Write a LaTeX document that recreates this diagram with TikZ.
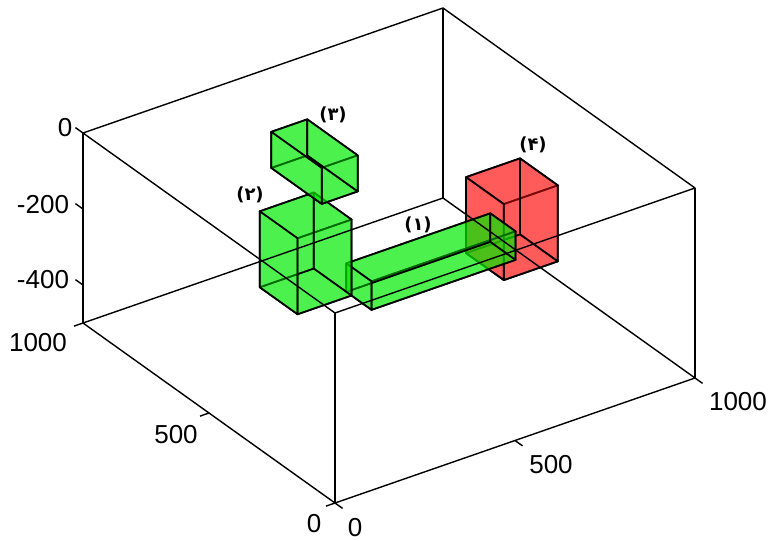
\documentclass[tikz,border=0pt]{standalone}
\usepackage{fontspec}
\setmainfont{Liberation Sans}
\newfontfamily\farsifont[Script=Arabic]{DejaVu Sans}

% one filled cuboid: a1 b1 c1 a2 b2 c2 style
\newcommand{\solidbox}[7]{%
  \path[#7] (#1,#2,#3) -- (#4,#2,#3) -- (#4,#5,#3) -- (#1,#5,#3) -- cycle;
  \path[#7] (#1,#2,#6) -- (#4,#2,#6) -- (#4,#5,#6) -- (#1,#5,#6) -- cycle;
  \path[#7] (#1,#2,#3) -- (#4,#2,#3) -- (#4,#2,#6) -- (#1,#2,#6) -- cycle;
  \path[#7] (#1,#5,#3) -- (#4,#5,#3) -- (#4,#5,#6) -- (#1,#5,#6) -- cycle;
  \path[#7] (#1,#2,#3) -- (#1,#5,#3) -- (#1,#5,#6) -- (#1,#2,#6) -- cycle;
  \path[#7] (#4,#2,#3) -- (#4,#5,#3) -- (#4,#5,#6) -- (#4,#2,#6) -- cycle;
}

\definecolor{boxgreen}{RGB}{0,235,0}
\definecolor{boxred}{RGB}{255,20,20}

\tikzset{
  axisline/.style={line width=1.4pt, line join=round},
  tickmark/.style={line width=1.4pt},
  ticklabel/.style={font=\fontsize{26}{26}\selectfont, inner sep=0pt},
  boxlabel/.style={font=\farsifont\bfseries\fontsize{18}{18}\selectfont, inner sep=0pt},
  greenbox/.style={fill=boxgreen, fill opacity=0.45, draw=black, line width=1.7pt, line join=round},
  redbox/.style={fill=boxred, fill opacity=0.45, draw=black, line width=1.7pt, line join=round}
}

\begin{document}
\begin{tikzpicture}[
  x={(0.360pt,0.125pt)}, y={(-0.252pt,0.180pt)}, z={(0pt,0.38pt)}
]
\useasboundingbox (0pt,0pt) rectangle (769pt,541pt);

\begin{scope}[shift={(335pt,228pt)}]
  % bodies
  \solidbox{700}{330}{-300}{850}{480}{-100}{redbox}
  \solidbox{350}{355}{-275}{750}{455}{-200}{greenbox}
  \solidbox{225}{470}{-300}{375}{620}{-100}{greenbox}
  \solidbox{355}{560}{-95}{455}{760}{0}{greenbox}

  % axes box
  \coordinate (O) at (0,0,-500);
  \coordinate (A) at (1000,0,-500);
  \coordinate (B) at (0,1000,-500);
  \coordinate (AB) at (1000,1000,-500);
  \coordinate (Ot) at (0,0,0);
  \coordinate (At) at (1000,0,0);
  \coordinate (Bt) at (0,1000,0);
  \coordinate (ABt) at (1000,1000,0);
  \draw[axisline] (O) -- (A) -- (AB) -- (B) -- cycle;
  \draw[axisline] (Ot) -- (At) -- (ABt) -- (Bt) -- cycle;
  \draw[axisline] (O) -- (Ot) (A) -- (At) (B) -- (Bt) (AB) -- (ABt);

  % ticks
  \foreach \c in {0,-200,-400}
    \draw[tickmark] (0,1000,\c) -- (0,1030,\c);
  \foreach \b in {0,500,1000}
    \draw[tickmark] (0,\b,-500) -- (-25,\b,-500);
  \foreach \a in {0,500,1000}
    \draw[tickmark] (\a,0,-500) -- (\a,-30,-500);
\end{scope}

% tick labels
\node[ticklabel] (z0) at (65pt,413pt) {0};
\node[ticklabel] (z200) at (43pt,336pt) {-200};
\node[ticklabel] (z400) at (43pt,261pt) {-400};
\node[ticklabel] (b1000) at (38pt,198pt) {1000};
\node[ticklabel] (b500) at (176pt,106pt) {500};
\node[ticklabel] (b0) at (314pt,17pt) {0};
\node[ticklabel] (a0) at (355pt,13pt) {0};
\node[ticklabel] (a500) at (551pt,76pt) {500};
\node[ticklabel] (a1000) at (738pt,139pt) {1000};

% body labels
\node[boxlabel] (lab1) at (418pt,316pt) {(۱)};
\node[boxlabel] (lab2) at (250pt,346pt) {(۲)};
\node[boxlabel] (lab3) at (333pt,426pt) {(۳)};
\node[boxlabel] (lab4) at (533pt,396pt) {(۴)};
\end{tikzpicture}
\end{document}
